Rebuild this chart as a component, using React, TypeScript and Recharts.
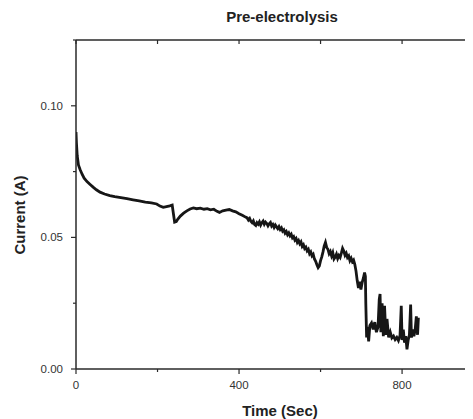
import React from "react";
import { LineChart, Line, XAxis, YAxis } from "recharts";

const timeSec = [
  0, 1, 3, 6, 10, 15, 20, 27, 34, 42, 50, 59, 70, 83, 95, 110, 125, 140, 155, 170,
  185, 198, 206, 214, 222, 230, 236, 239, 242, 246, 250, 256, 264, 272, 280, 288, 296, 305, 314, 322,
  330, 338, 346, 352, 360, 368, 376, 384, 392, 400, 408, 416,
  420, 423, 426, 429, 432, 435, 438, 441, 444, 447, 450, 453, 456, 459, 462, 465, 468, 471, 474, 477,
  480, 483, 486, 489, 492, 495, 498, 501, 504, 507, 510, 513, 516, 519, 522, 525, 528, 531, 534, 537,
  540, 543, 546, 549, 552, 555, 558, 561, 564, 567, 570, 573, 576, 579, 582, 585, 588, 591, 594, 597,
  600, 603, 606, 609, 612, 615, 618, 621, 624, 627, 630, 633, 636, 639, 642, 645, 648, 651, 654, 657,
  660, 663, 666, 669, 672, 675, 678, 681, 684, 687, 690, 693, 696, 699, 702, 705, 708, 710,
  711, 713, 715, 718, 721, 725, 729, 733, 737, 741, 744, 746, 748, 751, 754,
  757, 760, 763, 767, 771, 775, 779, 783, 787, 791, 795, 798, 800, 803, 806, 809, 812, 815, 818, 821,
  823, 826, 829, 832, 835, 838, 840,
];

const currentA = [
  0.09, 0.086, 0.081, 0.0775, 0.0758, 0.074, 0.0725, 0.0712, 0.0702, 0.0691, 0.0681, 0.0672, 0.0665, 0.0659, 0.0655, 0.0651, 0.0647, 0.0643, 0.0639, 0.0634,
  0.0631, 0.0627, 0.0619, 0.0614, 0.0617, 0.062, 0.0623, 0.059, 0.0558, 0.056, 0.057, 0.0581, 0.0592, 0.0601, 0.0608, 0.0612, 0.0609, 0.0611, 0.0607, 0.0609,
  0.0605, 0.0607, 0.0599, 0.0595, 0.0601, 0.0604, 0.0606, 0.0601, 0.0597, 0.059, 0.0584, 0.0577,
  0.0574, 0.0566, 0.0572, 0.0561, 0.0556, 0.0563, 0.0549, 0.0545, 0.0556, 0.055, 0.0559, 0.0547, 0.0556, 0.0562, 0.055, 0.0558, 0.0553, 0.0544, 0.0552, 0.0557,
  0.0543, 0.0549, 0.0538, 0.0547, 0.054, 0.0533, 0.0541, 0.053, 0.0536, 0.0524, 0.0529, 0.0516, 0.0522, 0.051, 0.0517, 0.0506, 0.0512, 0.0498, 0.0503, 0.049,
  0.0496, 0.0481, 0.0488, 0.0476, 0.0483, 0.0466, 0.0472, 0.0458, 0.0463, 0.0449, 0.0455, 0.0438, 0.0445, 0.043, 0.0436, 0.0418, 0.0409, 0.0396, 0.0385, 0.0392,
  0.0412, 0.0426, 0.0445, 0.0468, 0.0481, 0.0462, 0.0455, 0.0438, 0.0446, 0.043, 0.0442, 0.0418, 0.0425, 0.0436, 0.042, 0.0431, 0.0424, 0.044, 0.0458, 0.0448,
  0.0432, 0.044, 0.0424, 0.043, 0.0412, 0.0421, 0.0408, 0.0414, 0.0398, 0.0372, 0.0335, 0.0308, 0.0332, 0.0302, 0.0328, 0.0345, 0.0366, 0.0352,
  0.025, 0.012, 0.016, 0.0105, 0.0165, 0.0175, 0.015, 0.0178, 0.014, 0.016, 0.0265, 0.0285, 0.014, 0.025, 0.0125,
  0.024, 0.013, 0.019, 0.012, 0.014, 0.0118, 0.0125, 0.0112, 0.012, 0.0108, 0.0128, 0.024, 0.011, 0.015, 0.01, 0.0125, 0.0075, 0.011, 0.013, 0.0245,
  0.012, 0.015, 0.0125, 0.0148, 0.02, 0.013, 0.0195,
];

const xDomainMax = 974;
const xTicks = [0, 200, 400, 600, 800];
const xTickLabels = ["0", "", "400", "", "800"];
const yTicks = [0, 0.025, 0.05, 0.075, 0.1, 0.125];
const yTickLabels = ["0.00", "", "0.05", "", "0.10", ""];

const data = timeSec.map((t, i) => ({ t, v: currentA[i] }));

const FONT = "'Liberation Sans', Arial, Helvetica, sans-serif";
const AX = "#2a2a2a";

const BottomTick = (props: any) => {
  const { x, y, index } = props;
  const label = xTickLabels[index];
  const major = label !== "";
  return (
    <g>
      <line x1={x} y1={y} x2={x} y2={y + (major ? 5 : 3)} stroke={AX} strokeWidth={1.2} />
      {major && (
        <text x={x} y={y + 20} textAnchor="middle" fontSize={11.5} fill="#333" fontFamily={FONT}>
          {label}
        </text>
      )}
    </g>
  );
};

const TopTick = (props: any) => {
  const { x, y } = props;
  return <line x1={x} y1={y} x2={x} y2={y + 4} stroke={AX} strokeWidth={1.2} />;
};

const LeftTick = (props: any) => {
  const { x, y, index } = props;
  const label = yTickLabels[index];
  const major = label !== "";
  return (
    <g>
      <line x1={x} y1={y} x2={x - (major ? 5 : 3)} y2={y} stroke={AX} strokeWidth={1.2} />
      {major && (
        <text x={x - 13} y={y + 4} textAnchor="end" fontSize={11.5} fill="#333" fontFamily={FONT}>
          {label}
        </text>
      )}
    </g>
  );
};

export default function App() {
  return (
    <LineChart
      width={465}
      height={411}
      data={data}
      margin={{ top: 31, right: 0, bottom: 0, left: 0 }}
    >
      <XAxis
        dataKey="t"
        type="number"
        domain={[0, xDomainMax]}
        allowDataOverflow
        ticks={xTicks}
        interval={0}
        tickSize={0}
        tickMargin={0}
        tickLine={false}
        axisLine={{ stroke: AX, strokeWidth: 1.5 }}
        tick={<BottomTick />}
        height={50}
      />
      <XAxis
        xAxisId="top"
        orientation="top"
        dataKey="t"
        type="number"
        domain={[0, xDomainMax]}
        allowDataOverflow
        ticks={xTicks}
        interval={0}
        tickSize={0}
        tickMargin={0}
        tickLine={false}
        axisLine={{ stroke: AX, strokeWidth: 1.5 }}
        tick={<TopTick />}
        height={1}
      />
      <YAxis
        type="number"
        domain={[0, 0.125]}
        ticks={yTicks}
        interval={0}
        tickSize={0}
        tickMargin={0}
        tickLine={false}
        axisLine={{ stroke: AX, strokeWidth: 1.5 }}
        tick={<LeftTick />}
        width={68}
      />
      <Line
        type="linear"
        dataKey="v"
        stroke="#161616"
        strokeWidth={2.8}
        dot={false}
        isAnimationActive={false}
      />
      <Line
        xAxisId="top"
        type="linear"
        dataKey="v"
        stroke="none"
        strokeWidth={0}
        dot={false}
        isAnimationActive={false}
        legendType="none"
      />
      <text x={274} y={14} textAnchor="middle" fontSize={15} fontWeight="bold" fill="#222" fontFamily={FONT}>
        Pre-electrolysis
      </text>
      <text x={272} y={408} textAnchor="middle" fontSize={15} fontWeight="bold" fill="#222" fontFamily={FONT}>
        Time (Sec)
      </text>
      <text
        x={17}
        y={207}
        textAnchor="middle"
        fontSize={15}
        fontWeight="bold"
        fill="#222"
        fontFamily={FONT}
        transform="rotate(-90 17 207)"
      >
        Current (A)
      </text>
    </LineChart>
  );
}
